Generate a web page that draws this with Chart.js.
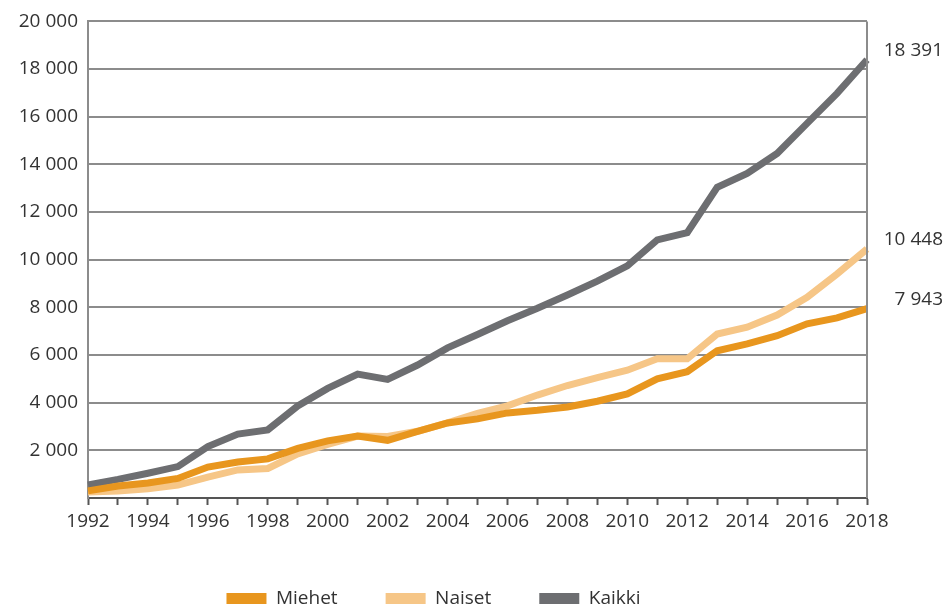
<!DOCTYPE html>
<html>
<head>
<meta charset="utf-8">
<script src="https://cdn.jsdelivr.net/npm/chart.js@4/dist/chart.umd.min.js"></script>
<style>
  html, body { margin: 0; padding: 0; background: #fff; }
  #wrap { width: 946px; height: 608px; }
</style>
</head>
<body>
<div id="wrap"><canvas id="chart"></canvas></div>
<script>
const years = ["1992", "1993", "1994", "1995", "1996", "1997", "1998", "1999", "2000", "2001", "2002", "2003", "2004", "2005", "2006", "2007", "2008", "2009", "2010", "2011", "2012", "2013", "2014", "2015", "2016", "2017", "2018"];

const miehet = [300, 500, 630, 820, 1300, 1510, 1640, 2080, 2400, 2600, 2420, 2800, 3150, 3320, 3570, 3680, 3820, 4060, 4370, 5000, 5300, 6180, 6470, 6810, 7310, 7560, 7943];
const naiset = [250, 290, 390, 540, 880, 1180, 1240, 1850, 2250, 2600, 2580, 2800, 3150, 3550, 3870, 4320, 4720, 5050, 5360, 5840, 5840, 6880, 7170, 7680, 8420, 9400, 10448];
const kaikki = [550, 780, 1040, 1320, 2160, 2680, 2860, 3860, 4600, 5200, 4980, 5580, 6300, 6860, 7440, 7960, 8520, 9100, 9740, 10830, 11130, 13040, 13620, 14460, 15720, 16980, 18391];

const yTicks = [0, 2000, 4000, 6000, 8000, 10000, 12000, 14000, 16000, 18000, 20000];

const fontFamily = "'Open Sans', sans-serif";
const textColor = "#333333";
const gridColor = "#8c8c8c";

function fmt(n) {
    return String(n).replace(/\B(?=(\d{3})+(?!\d))/g, " ");
}

// right border line + value labels at the end of each line
const extras = {
    id: "extras",
    afterDatasetsDraw(chart) {
        const { ctx, chartArea } = chart;
        ctx.save();
        ctx.strokeStyle = gridColor;
        ctx.lineWidth = 2;
        ctx.beginPath();
        ctx.moveTo(chartArea.right, chartArea.top);
        ctx.lineTo(chartArea.right, chartArea.bottom);
        ctx.stroke();

        ctx.font = `19px ${fontFamily}`;
        ctx.fillStyle = textColor;
        ctx.textAlign = "right";
        ctx.textBaseline = "middle";
        chart.data.datasets.forEach((ds, i) => {
            const meta = chart.getDatasetMeta(i);
            const last = meta.data[meta.data.length - 1];
            ctx.fillText(fmt(ds.data[ds.data.length - 1]), chart.width - 3, last.y - 9);
        });
        ctx.restore();
    },
};

const data = {
    labels: years,
    datasets: [
        {
            label: "Miehet",
            data: miehet,
            borderColor: "#e8961e",
            backgroundColor: "#e8961e",
            borderWidth: 7,
            pointRadius: 0,
            tension: 0,
        },
        {
            label: "Naiset",
            data: naiset,
            borderColor: "#f6c687",
            backgroundColor: "#f6c687",
            borderWidth: 7,
            pointRadius: 0,
            tension: 0,
        },
        {
            label: "Kaikki",
            data: kaikki,
            borderColor: "#6d6e71",
            backgroundColor: "#6d6e71",
            borderWidth: 7,
            pointRadius: 0,
            tension: 0,
        },
    ],
};

const config = {
    type: "line",
    data: data,
    options: {
        responsive: true,
        maintainAspectRatio: false,
        animation: false,
        layout: {
            padding: { top: 10, right: 79, left: 0, bottom: -10 },
        },
        plugins: {
            tooltip: { enabled: false },
            legend: {
                position: "bottom",
                labels: {
                    boxWidth: 40,
                    boxHeight: 11,
                    padding: 48,
                    color: textColor,
                    font: { family: fontFamily, size: 19 },
                    generateLabels: (chart) =>
                        Chart.defaults.plugins.legend.labels
                            .generateLabels(chart)
                            .map((item) => ({ ...item, lineWidth: 0 })),
                },
            },
        },
        scales: {
            x: {
                offset: false,
                grid: {
                    display: true,
                    drawOnChartArea: false,
                    tickLength: 7,
                    tickWidth: 2,
                    tickColor: "#555555",
                },
                border: { color: "#555555", width: 2 },
                ticks: {
                    autoSkip: false,
                    maxRotation: 0,
                    padding: 5,
                    color: textColor,
                    font: { family: fontFamily, size: 19 },
                    callback: (value, index) => (index % 2 === 0 ? years[index] : ""),
                },
                afterFit: (scale) => {
                    scale.height = 43;
                },
            },
            y: {
                min: 0,
                max: 20000,
                afterBuildTicks: (scale) => {
                    scale.ticks = yTicks.map((v) => ({ value: v }));
                },
                grid: {
                    color: gridColor,
                    lineWidth: 2,
                    drawTicks: false,
                },
                border: { color: gridColor, width: 2 },
                ticks: {
                    padding: 10,
                    color: textColor,
                    font: { family: fontFamily, size: 19 },
                    callback: (value) => (value === 0 ? "" : fmt(value)),
                },
                afterFit: (scale) => {
                    scale.width = 88;
                },
            },
        },
    },
    plugins: [extras],
};

new Chart(document.getElementById("chart"), config);
</script>
</body>
</html>
